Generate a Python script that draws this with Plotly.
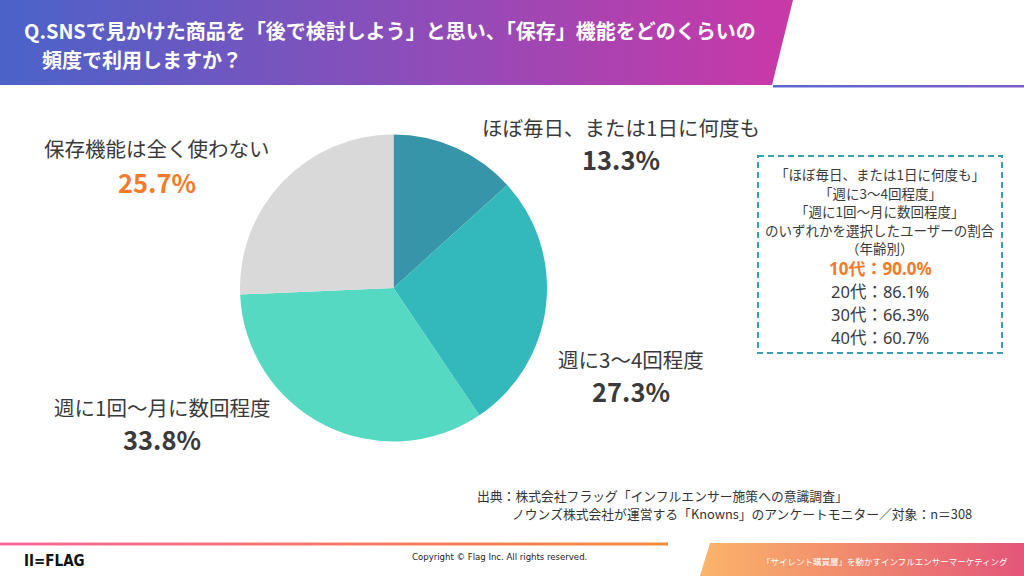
import plotly.graph_objects as go

# ---- data ----
categories = ["ほぼ毎日、または1日に何度も", "週に3～4回程度", "週に1回～月に数回程度", "保存機能は全く使わない"]
shares = [13.3, 27.3, 33.8, 25.7]
slice_colors = ["#3795a9", "#33b8bb", "#55d9c2", "#d9d9d9"]

age_groups = ["10代", "20代", "30代", "40代"]
age_rates = [90.0, 86.1, 66.3, 60.7]

title_lines = ["Q.SNSで見かけた商品を「後で検討しよう」と思い、「保存」機能をどのくらいの", "頻度で利用しますか？"]
box_lines = ["「ほぼ毎日、または1日に何度も」", "「週に3～4回程度」", "「週に1回～月に数回程度」",
             "のいずれかを選択したユーザーの割合", "（年齢別）"]
source_lines = ["出典：株式会社フラッグ「インフルエンサー施策への意識調査」",
                "ノウンズ株式会社が運営する「Knowns」のアンケートモニター／対象：n＝308"]

FONT = "Noto Sans CJK JP, Noto Sans, sans-serif"
LATIN_FIRST = "Noto Sans, Noto Sans CJK JP, sans-serif"
NARROW = "Liberation Sans Narrow, DejaVu Sans Condensed, sans-serif"
DARK = "#3a3a3a"
ORANGE = "#f47a2c"

fig = go.Figure()

def band(xs, ys, scale):
    fig.add_trace(go.Scatter(x=xs, y=ys, mode="lines", fill="toself", line=dict(width=0),
                             fillgradient=dict(type="horizontal", colorscale=scale),
                             hoverinfo="skip", showlegend=False))

# header gradient band
band([0, 793, 772, 0, 0], [0, 0, 85, 85, 0], [[0, "#4a63c9"], [0.5, "#8a4eba"], [1, "#ca38a7"]])
# thin line right of header
band([773, 1024, 1024, 773, 773], [85, 85, 87.5, 87.5, 85], [[0, "#5a6ad0"], [1, "#7b5bcc"]])
# footer line
band([0, 668, 668, 0, 0], [542.5, 542.5, 545.5, 545.5, 542.5], [[0, "#f3699a"], [1, "#f68a3a"]])
# bottom-right banner
band([710, 1024, 1024, 700, 710], [543, 543, 576, 576, 543],
     [[0, "#fbb56a"], [0.5, "#f0876d"], [1, "#e4557a"]])

# pie
fig.add_trace(go.Pie(values=shares, labels=categories, sort=False, direction="clockwise", rotation=0,
                     marker=dict(colors=slice_colors, line=dict(color="white", width=0)),
                     textinfo="none", hoverinfo="label+percent", showlegend=False,
                     domain=dict(x=[240 / 1024, 547 / 1024], y=[(288 - 153.5) / 576, (288 + 153.5) / 576])))

ann = []
def txt(x, y, s, size, color=DARK, bold=False, xanchor="center", family=FONT, height=None):
    if bold:
        s = "<b>" + s + "</b>"
    a = dict(x=x, y=y, xref="x", yref="y", text=s, showarrow=False, xanchor=xanchor, yanchor="middle",
             font=dict(family=family, size=size, color=color))
    if height:
        a["height"] = height
    ann.append(a)

# title
txt(22, 30, title_lines[0], 20, color="white", bold=True, xanchor="left")
txt(40, 59, title_lines[1], 20, color="white", bold=True, xanchor="left")

# pie labels
label_pos = [(621, 127, 158), (631, 359, 390), (162, 407, 438), (157, 148, 181)]
for i, (cx, ly, py) in enumerate(label_pos):
    txt(cx, ly, categories[i], 20.5, height=26)
    txt(cx, py, f"{shares[i]:.1f}%", 25.5, color=ORANGE if i == 3 else DARK, bold=True, height=30)

# right box
shapes = [dict(type="rect", xref="x", yref="y", x0=758, x1=1002, y0=156, y1=353,
               line=dict(color="#3a9db0", width=2, dash="6px,4px"), fillcolor="rgba(0,0,0,0)")]
box_y = [174, 193, 211, 230, 248]
for s, y in zip(box_lines, box_y):
    txt(880, y, s, 13.5, height=18)
age_y = [268, 291, 314, 337]
for i, (g, r) in enumerate(zip(age_groups, age_rates)):
    if i == 0:
        txt(880, age_y[i], f"{g}：{r:.1f}%", 17, color=ORANGE, bold=True, family=LATIN_FIRST, height=21)
    else:
        txt(880, age_y[i], f"{g}：{r:.1f}%", 16.5, family=LATIN_FIRST, height=21)

# source
txt(475, 495, source_lines[0], 12.8, color="#333333", xanchor="left")
txt(510, 513, source_lines[1], 12.8, color="#333333", xanchor="left")

# footer
txt(22, 561, "II=FLAG", 15, color="#111111", bold=True, xanchor="left", family=NARROW)
txt(499, 556, "Copyright © Flag Inc. All rights reserved.", 9.5, color="#222222", family=NARROW)
txt(885, 561, "「サイレント購買層」を動かすインフルエンサーマーケティング", 8.5, color="white")

fig.update_layout(
    width=1024, height=576, margin=dict(l=0, r=0, t=0, b=0),
    paper_bgcolor="white", plot_bgcolor="rgba(0,0,0,0)",
    xaxis=dict(range=[0, 1024], visible=False, fixedrange=True, domain=[0, 1]),
    yaxis=dict(range=[576, 0], visible=False, fixedrange=True, domain=[0, 1]),
    annotations=ann, shapes=shapes, showlegend=False,
)

fig.write_html("out.html")
